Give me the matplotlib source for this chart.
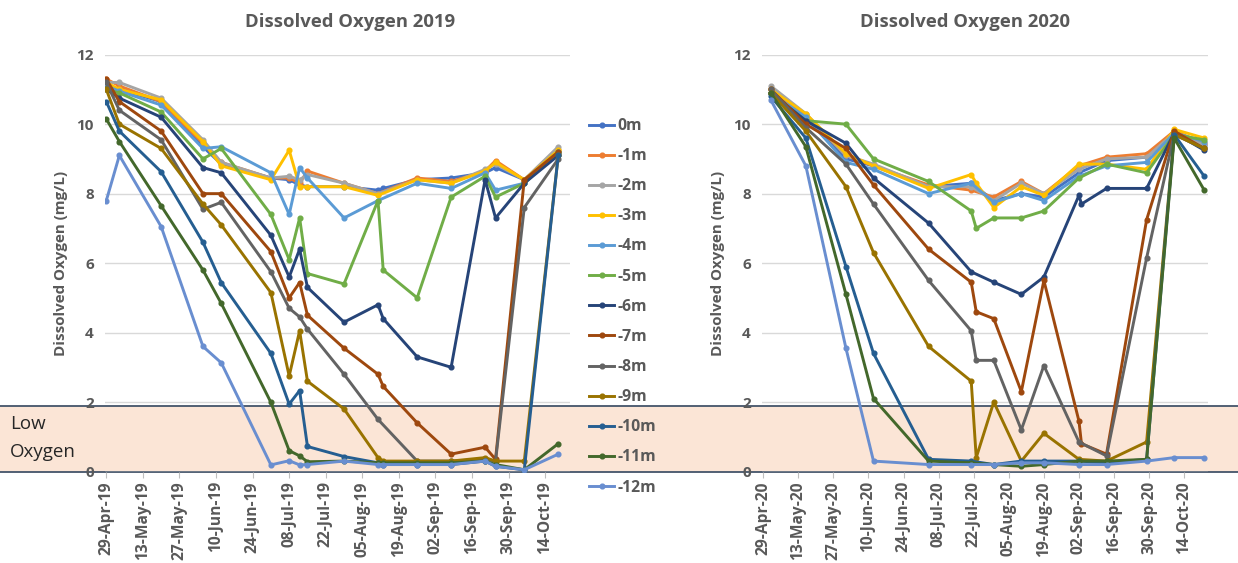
import numpy as np
import matplotlib
matplotlib.use("Agg")
import matplotlib.pyplot as plt
import matplotlib.dates as mdates
from matplotlib.patches import Rectangle
from matplotlib.lines import Line2D
import datetime as dt

nan = np.nan

# ---------------- data ----------------
depths = ["0m", "-1m", "-2m", "-3m", "-4m", "-5m", "-6m", "-7m", "-8m", "-9m", "-10m", "-11m", "-12m"]
colors = ["#4472C4", "#ED7D31", "#A5A5A5", "#FFC000", "#5B9BD5", "#70AD47",
          "#264478", "#9E480E", "#636363", "#997300", "#255E91", "#43682B", "#698ED0"]

dates_2019 = ["2019-04-29", "2019-05-04", "2019-05-20", "2019-06-05", "2019-06-12", "2019-07-01",
              "2019-07-08", "2019-07-12", "2019-07-15", "2019-07-29", "2019-08-11", "2019-08-13",
              "2019-08-26", "2019-09-08", "2019-09-21", "2019-09-25", "2019-10-06", "2019-10-19"]

do19_0m = [11.1, 11.0, 10.65, 9.35, 8.85, 8.45, 8.4, 8.25, 8.2, 8.2, 8.1, 8.15, 8.4, 8.45, 8.6, 8.75, 8.4, 9.2]
do19_1m = [11.3, 11.1, 10.65, 9.45, 8.9, 8.45, 8.45, 8.3, 8.65, 8.3, 8.0, nan, 8.45, 8.35, 8.65, 8.95, 8.4, 9.25]
do19_2m = [11.2, 11.2, 10.75, 9.55, 8.9, 8.45, 8.5, 8.4, 8.55, 8.3, 8.0, nan, 8.4, 8.3, 8.7, 8.85, 8.4, 9.35]
do19_3m = [11.2, 11.0, 10.7, 9.5, 8.8, 8.4, 9.25, 8.2, 8.2, 8.2, 7.95, nan, 8.4, 8.3, 8.65, 8.9, 8.4, 9.25]
do19_4m = [11.1, 10.95, 10.55, 9.3, 9.35, 8.6, 7.4, 8.75, 8.45, 7.3, 7.8, nan, 8.3, 8.15, 8.6, 8.1, 8.3, 9.2]
do19_5m = [11.0, 10.9, 10.35, 9.0, 9.3, 7.4, 6.1, 7.3, 5.7, 5.4, 7.8, 5.8, 5.0, 7.9, 8.5, 7.9, 8.3, 9.2]
do19_6m = [11.0, 10.75, 10.2, 8.75, 8.6, 6.8, 5.6, 6.4, 5.3, 4.3, 4.8, 4.4, 3.3, 3.0, 8.4, 7.3, 8.3, 9.1]
do19_7m = [11.3, 10.65, 9.8, 8.0, 8.0, 6.33, 5.0, 5.44, 4.5, 3.55, 2.8, 2.45, 1.4, 0.5, 0.7, 0.35, 8.4, 9.2]
do19_8m = [11.2, 10.4, 9.55, 7.55, 7.75, 5.75, 4.7, 4.45, 4.1, 2.8, 1.5, nan, 0.3, 0.3, 0.35, 0.3, 7.6, 9.0]
do19_9m = [11.0, 10.0, 9.3, 7.7, 7.1, 5.15, 2.75, 4.05, 2.6, 1.8, 0.4, 0.3, 0.3, 0.3, 0.4, 0.3, 0.3, 9.1]
do19_10m = [10.65, 9.8, 8.63, 6.6, 5.44, 3.4, 1.94, 2.33, 0.72, 0.43, 0.25, 0.2, 0.2, 0.2, 0.3, 0.15, 0.05, 9.1]
do19_11m = [10.15, 9.5, 7.65, 5.8, 4.84, 1.99, 0.6, 0.45, 0.28, 0.3, 0.25, 0.25, 0.25, 0.25, 0.3, 0.2, 0.05, 0.8]
do19_12m = [7.8, 9.1, 7.05, 3.6, 3.13, 0.19, 0.31, 0.19, 0.2, 0.3, 0.2, 0.2, 0.2, 0.2, 0.3, 0.15, 0.05, 0.5]

dates_2020 = ["2020-05-02", "2020-05-16", "2020-06-01", "2020-06-12", "2020-07-04", "2020-07-21",
              "2020-07-23", "2020-07-30", "2020-08-10", "2020-08-19", "2020-09-02", "2020-09-03",
              "2020-09-13", "2020-09-29", "2020-10-10", "2020-10-22"]

do20_0m = [10.9, 10.2, 9.0, 8.8, 8.2, 8.3, nan, 7.8, 8.0, 7.9, 8.6, nan, 8.95, 9.05, 9.8, 9.4]
do20_1m = [11.0, 10.25, 9.1, 8.8, 8.25, 8.1, nan, 7.9, 8.35, 8.0, 8.8, nan, 9.05, 9.15, 9.8, 9.45]
do20_2m = [11.1, 10.3, 9.1, 8.85, 8.2, 8.2, nan, 7.8, 8.3, 8.0, 8.7, nan, 9.0, 9.05, 9.75, 9.4]
do20_3m = [11.0, 10.3, 9.15, 8.8, 8.15, 8.55, 8.3, 7.6, 8.2, 7.95, 8.85, nan, 8.85, 8.7, 9.85, 9.6]
do20_4m = [10.9, 10.2, 8.9, 8.7, 8.0, 8.3, nan, 7.75, 8.0, 7.8, 8.5, nan, 8.8, 8.9, 9.75, 9.5]
do20_5m = [10.9, 10.1, 10.0, 9.0, 8.35, 7.5, 7.0, 7.3, 7.3, 7.5, 8.45, nan, 8.85, 8.6, 9.7, 9.55]
do20_6m = [10.9, 10.1, 9.45, 8.45, 7.15, 5.75, nan, 5.45, 5.1, 5.6, 7.95, 7.7, 8.15, 8.15, 9.75, 9.25]
do20_7m = [11.0, 10.0, 9.3, 8.25, 6.4, 5.45, 4.6, 4.4, 2.3, 5.5, 1.45, 0.8, 0.5, 7.25, 9.8, 9.3]
do20_8m = [11.0, 9.9, 8.85, 7.7, 5.5, 4.05, 3.2, 3.2, 1.2, 3.05, 0.85, nan, 0.45, 6.15, 9.7, 9.3]
do20_9m = [10.9, 9.8, 8.2, 6.3, 3.6, 2.6, 0.4, 2.0, 0.3, 1.1, 0.35, nan, 0.3, 0.85, 9.7, 9.3]
do20_10m = [10.8, 9.6, 5.9, 3.4, 0.35, 0.3, nan, 0.2, 0.3, 0.3, 0.3, nan, 0.25, 0.35, 9.7, 8.5]
do20_11m = [10.9, 9.35, 5.1, 2.1, 0.3, 0.25, nan, 0.2, 0.15, 0.2, 0.3, nan, 0.3, 0.35, 9.6, 8.1]
do20_12m = [10.7, 8.8, 3.55, 0.3, 0.2, 0.2, nan, 0.2, 0.25, 0.25, 0.2, nan, 0.2, 0.3, 0.4, 0.4]

series_2019 = [do19_0m, do19_1m, do19_2m, do19_3m, do19_4m, do19_5m, do19_6m,
               do19_7m, do19_8m, do19_9m, do19_10m, do19_11m, do19_12m]
series_2020 = [do20_0m, do20_1m, do20_2m, do20_3m, do20_4m, do20_5m, do20_6m,
               do20_7m, do20_8m, do20_9m, do20_10m, do20_11m, do20_12m]

y_ticks = [0, 2, 4, 6, 8, 10, 12]
low_oxygen_limit = 1.9

# ---------------- figure ----------------
plt.rcParams['font.family'] = ['Open Sans', 'DejaVu Sans']
W, H = 1238, 563
fig = plt.figure(figsize=(W / 100, H / 100), dpi=100)
fig.patch.set_facecolor('white')

grey = "#595959"
ax_bottom = 1 - 471.5 / H
ax_height = (471.5 - 54.7) / H
ax1 = fig.add_axes([105 / W, ax_bottom, 465 / W, ax_height])
ax2 = fig.add_axes([762 / W, ax_bottom, 446 / W, ax_height])

# low oxygen band across the whole figure
y0_pix = 472
y1_pix = 471.5 - low_oxygen_limit * (416.8 / 12)
band = Rectangle((0, 1 - y0_pix / H), 1, (y0_pix - y1_pix) / H, transform=fig.transFigure,
                 facecolor="#FBE5D6", edgecolor="none", zorder=-5)
fig.add_artist(band)
for yp in (y1_pix, y0_pix):
    fig.add_artist(Line2D([0, 1], [1 - yp / H, 1 - yp / H], transform=fig.transFigure,
                          color="#44546A", lw=1.3, zorder=-4))


def style(ax, year, title, title_x):
    ax.set_facecolor('none')
    ax.set_ylim(0, 12)
    ax.set_yticks(y_ticks)
    ax.set_xlim(mdates.date2num(dt.datetime(year, 4, 28, 12)),
                mdates.date2num(dt.datetime(year, 10, 23, 12)))
    ticks = [dt.datetime(year, 4, 29) + dt.timedelta(days=14 * i) for i in range(13)]
    ax.set_xticks(mdates.date2num(ticks))
    ax.xaxis.set_major_formatter(mdates.DateFormatter('%d-%b-%y'))
    for lab in ax.get_xticklabels():
        lab.set_rotation(90)
    ax.tick_params(axis='x', colors='#BFBFBF', labelcolor=grey, labelsize=11.2, length=4, pad=3)
    ax.tick_params(axis='y', length=0, labelcolor=grey, labelsize=11, pad=8)
    for lab in ax.get_xticklabels() + ax.get_yticklabels():
        lab.set_fontweight('bold')
    for s in ax.spines.values():
        s.set_visible(False)
    ax.grid(axis='y', color='#D9D9D9', lw=1)
    ax.set_axisbelow(True)
    ax.set_ylabel('Dissolved Oxygen (mg/L)', color=grey, fontsize=10.9, fontweight='bold', labelpad=6)
    fig.text(title_x / W, 1 - 22 / H, title, ha='center', va='center', color=grey,
             fontsize=13.3, fontweight='bold')


def draw(ax, dates, series):
    x = mdates.date2num([dt.datetime.strptime(d, "%Y-%m-%d") for d in dates])
    handles = []
    for vals, c, lab in zip(series, colors, depths):
        v = np.array(vals, dtype=float)
        m = ~np.isnan(v)
        h, = ax.plot(x[m], v[m], color=c, lw=2.1, marker='o', ms=3.4, label=lab, zorder=3)
        handles.append(h)
    return handles


handles = draw(ax1, dates_2019, series_2019)
draw(ax2, dates_2020, series_2020)
style(ax1, 2019, 'Dissolved Oxygen 2019', 350)
style(ax2, 2020, 'Dissolved Oxygen 2020', 965)

leg = fig.legend(handles, depths, loc='upper left', bbox_to_anchor=(589 / W, 1 - 118 / H),
                 frameon=False, fontsize=11.3, labelspacing=0.9, handlelength=1.6,
                 handletextpad=0.2, borderaxespad=0, borderpad=0)
for t in leg.get_texts():
    t.set_color(grey)
    t.set_fontweight('bold')

fig.text(10 / W, 1 - 424 / H, 'Low', fontsize=13.5, color='#262626', ha='left', va='center')
fig.text(10 / W, 1 - 452 / H, 'Oxygen', fontsize=13.5, color='#262626', ha='left', va='center')

fig.savefig('out.png', dpi=100)
